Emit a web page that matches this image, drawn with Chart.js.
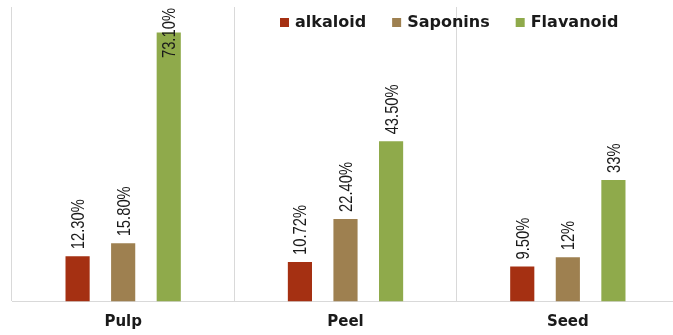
<!DOCTYPE html>
<html>
<head>
<meta charset="utf-8">
<script src="https://cdn.jsdelivr.net/npm/chart.js@4/dist/chart.umd.min.js"></script>
<style>
html,body{margin:0;padding:0;background:#fff;overflow:hidden;width:673px;height:335px;}
#wrap{width:680px;height:347px;position:relative;}
</style>
</head>
<body>
<div id="wrap"><canvas id="c"></canvas></div>
<script>
const categories = ['Pulp', 'Peel', 'Seed'];
const seriesNames = ['alkaloid', 'Saponins', 'Flavanoid'];
const alkaloid = [12.3, 10.72, 9.5];
const saponins = [15.8, 22.4, 12];
const flavanoid = [73.1, 43.5, 33];
const alkaloidLabels = ['12.30%', '10.72%', '9.50%'];
const saponinsLabels = ['15.80%', '22.40%', '12%'];
const flavanoidLabels = ['73.10%', '43.50%', '33%'];
const colors = ['#A53012', '#9E8050', '#8FAA4B'];

const valueLabels = [alkaloidLabels, saponinsLabels, flavanoidLabels];

const dataLabelPlugin = {
  id: 'dataLabels',
  afterDatasetsDraw(chart) {
    const ctx = chart.ctx;
    const area = chart.chartArea;
    chart.data.datasets.forEach((ds, i) => {
      const meta = chart.getDatasetMeta(i);
      meta.data.forEach((el, j) => {
        const text = valueLabels[i][j];
        ctx.save();
        ctx.font = '18px "Liberation Sans", Arial, sans-serif';
        const sx = 0.82;
        const len = ctx.measureText(text).width * sx;
        let bottom = el.y - 7;
        if (bottom - len < area.top + 1) bottom = area.top + 1 + len;
        ctx.translate(el.x + 1.5, bottom);
        ctx.rotate(-Math.PI / 2);
        ctx.scale(sx, 1);
        ctx.fillStyle = '#1a1a1a';
        ctx.textAlign = 'left';
        ctx.textBaseline = 'middle';
        ctx.fillText(text, 0, 0);
        ctx.restore();
      });
    });
  }
};

const legendPlugin = {
  id: 'customLegend',
  afterDraw(chart) {
    const ctx = chart.ctx;
    ctx.save();
    ctx.font = 'bold 16px "DejaVu Sans", sans-serif';
    ctx.textBaseline = 'middle';
    ctx.textAlign = 'left';
    let x = 280;
    const y = 22.5;
    seriesNames.forEach((name, i) => {
      ctx.fillStyle = colors[i];
      ctx.fillRect(x, y - 4.5, 9, 9);
      x += 15;
      ctx.fillStyle = '#1a1a1a';
      ctx.fillText(name, x, y);
      x += ctx.measureText(name).width + 26;
    });
    ctx.restore();
  }
};

new Chart(document.getElementById('c'), {
  type: 'bar',
  data: {
    labels: categories,
    datasets: [
      { label: seriesNames[0], data: alkaloid, backgroundColor: colors[0] },
      { label: seriesNames[1], data: saponins, backgroundColor: colors[1] },
      { label: seriesNames[2], data: flavanoid, backgroundColor: colors[2] }
    ]
  },
  options: {
    responsive: true,
    maintainAspectRatio: false,
    animation: false,
    devicePixelRatio: 1,
    layout: { padding: { left: 12, top: 7, right: 1, bottom: 3.5 } },
    datasets: { bar: { categoryPercentage: 0.615, barPercentage: 0.53 } },
    plugins: { legend: { display: false }, tooltip: { enabled: false } },
    scales: {
      x: {
        grid: { offset: true, color: '#d9d9d9', drawTicks: false, lineWidth: 1 },
        border: { color: '#d9d9d9', width: 1 },
        ticks: { font: { family: '"DejaVu Sans", sans-serif', size: 15, weight: 'bold' }, color: '#1a1a1a', padding: 12 }
      },
      y: { display: false, min: 0, max: 80 }
    }
  },
  plugins: [dataLabelPlugin, legendPlugin]
});
</script>
</body>
</html>
